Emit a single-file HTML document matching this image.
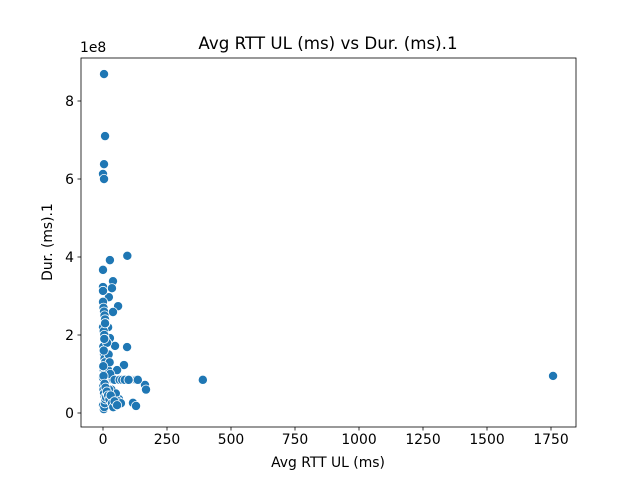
<!DOCTYPE html>
<html><head><meta charset="utf-8"><style>
body{margin:0;background:#fff}
svg{font-family:"DejaVu Sans","Liberation Sans",sans-serif}
</style></head><body>
<svg id="chart" width="640" height="480">
<rect width="640" height="480" fill="#fff"/>
<text x="328" y="49" font-size="16.7" text-anchor="middle">Avg RTT UL (ms) vs Dur. (ms).1</text>
<text x="328" y="467" font-size="13.9" text-anchor="middle">Avg RTT UL (ms)</text>
<text transform="translate(52,242) rotate(-90)" font-size="13.9" text-anchor="middle">Dur. (ms).1</text>
<text x="80" y="52" font-size="13.9">1e8</text>
<g id="marks"></g>
<g id="axes"></g>
</svg>
<script>
const xTicks=[0,250,500,750,1000,1250,1500,1750];
const yTicks=[0,2,4,6,8];
const xs=[4,8,4,0,4,0,95,27,39,35,59,39,23,0,0,20,27,47,94,82,55,390,1758,164,168,117,129,62,47,110,115,120,126,130,136,
0,2,4,6,8,10,0,3,5,7,9,1,2,4,6,8,0,3,5,7,9,1,2,4,6,8,0,3,5,7,9,12,15,18,22,25,30,35,40,14,20,28,33,45,50,60,70,12,18,24,30,38,16,22,26,8,5,3,1,0,2,6,10,15,20,25,30,35,40,45,55,65,75,85,100];
const ys=[8.69,7.1,6.38,6.13,6.0,3.67,4.03,3.92,3.38,3.2,2.74,2.59,2.97,3.23,3.13,2.2,1.92,1.72,1.69,1.23,1.1,0.85,0.95,0.72,0.6,0.26,0.18,0.36,0.2,0.85,0.85,0.85,0.85,0.85,0.85,
2.85,2.7,2.6,2.5,2.4,2.3,2.2,2.1,2.0,1.9,1.8,1.7,1.6,1.5,1.4,1.3,1.2,1.1,1.0,0.9,0.8,0.7,0.6,0.5,0.4,0.3,0.2,0.1,0.15,0.25,0.35,0.85,0.85,0.85,0.85,0.85,0.85,0.85,0.85,1.15,1.1,1.0,0.6,0.85,0.5,0.3,0.25,0.4,0.5,0.6,0.3,0.2,1.8,1.5,1.3,2.3,1.9,1.6,1.2,0.9,0.95,0.75,0.65,0.55,0.45,0.35,0.45,0.25,0.15,0.3,0.2,0.85,0.85,0.85,0.85];
const L=81,R=576,T=58,B=427;
const xS=v=>103+v*64/250;
const yS=v=>413-v*39;
const NS="http://www.w3.org/2000/svg";
const marks=document.getElementById('marks'),axes=document.getElementById('axes');
function mk(tag,at,parent){const e=document.createElementNS(NS,tag);for(const k in at)e.setAttribute(k,at[k]);parent.appendChild(e);return e;}
xs.forEach((x,i)=>{
 const c=mk('circle',{cx:xS(x),cy:yS(ys[i]),r:4.6,fill:'#1f77b4',stroke:'#fff','stroke-width':0.8},marks);
 
 
});
const fr=mk('rect',{x:L,y:T,width:R-L,height:B-T,fill:'none',stroke:'#000','stroke-width':0.8},axes);


xTicks.forEach(t=>{
 const x=xS(t);
 mk('line',{x1:x,x2:x,y1:B,y2:B+3.5,stroke:'#000','stroke-width':0.8},axes);
 const tx=mk('text',{x:x,y:B+17,'font-size':13.9,'text-anchor':'middle'},axes);
 tx.textContent=t;
 
 
});
yTicks.forEach(t=>{
 const y=yS(t);
 mk('line',{x1:L,x2:L-3.5,y1:y,y2:y,stroke:'#000','stroke-width':0.8},axes);
 const tx=mk('text',{x:L-7,y:y+5,'font-size':13.9,'text-anchor':'end'},axes);
 tx.textContent=t;
 
 
});
</script>
</body></html>
